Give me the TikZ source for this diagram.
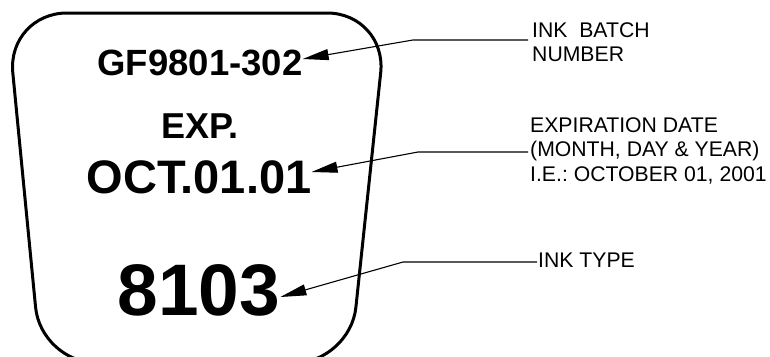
\documentclass[tikz,border=0pt]{standalone}
\usepackage{fontspec}
\setmainfont{Liberation Sans}
\usetikzlibrary{arrows.meta}
\frenchspacing
\begin{document}
\begin{tikzpicture}[x=1pt,y=-1pt,
  outline/.style={line width=3pt,line join=round,rounded corners=60pt},
  bigtext/.style={inner sep=0pt,anchor=base,font=\bfseries},
  callout/.style={inner sep=0pt,anchor=north west,align=left,font=\fontsize{21.2}{24.5}\selectfont},
  leader/.style={line width=1.1pt,-{Triangle[length=26pt,width=11pt]}}]
\useasboundingbox (0,0) rectangle (770,356);
\begin{scope}
\clip (0,0) rectangle (770,356);
\draw[outline] (7,13) -- (387,13) [rounded corners=56pt] -- (350,363) -- (41,363) [rounded corners=60pt] -- cycle;
\end{scope}
% texts on the label
\node[bigtext,font=\fontsize{36.5}{40}\selectfont\bfseries] (batch) at (200,75) {GF9801-302};
\node[bigtext,font=\fontsize{36}{40}\selectfont\bfseries] (exp) at (200,138) {EXP.};
\node[bigtext,font=\fontsize{47}{50}\selectfont\bfseries] (date) at (199,193) {OCT.01.01};
\node[bigtext,font=\fontsize{73}{78}\selectfont\bfseries] (type) at (199,315) {8103};
% callouts
\node[callout] (lbatch) at (532,22) {INK~ BATCH\\NUMBER};
\node[callout] (ldate) at (530,117) {EXPIRATION DATE\\(MONTH, DAY \& YEAR)\\I.E.: OCTOBER 01, 2001};
\node[callout] (ltype) at (538,253) {INK TYPE};
\coordinate (e1) at (528,40);
\coordinate (k1) at (413,40);
\coordinate (e2) at (528,152);
\coordinate (k2) at (418,152);
\coordinate (e3) at (537,262);
\coordinate (k3) at (403,262);
\draw[leader] (e1) -- (k1) -- ([yshift=16pt]batch.base east);
\draw[leader] (e2) -- (k2) -- ([yshift=21pt]date.base east);
\draw[leader] (e3) -- (k3) -- ([yshift=18pt]type.base east);
\end{tikzpicture}
\end{document}
